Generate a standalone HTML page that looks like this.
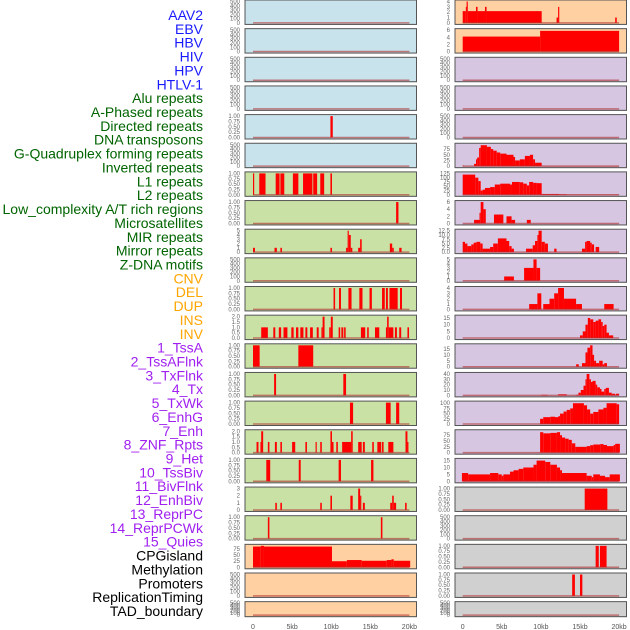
<!DOCTYPE html>
<html><head><meta charset="utf-8"><style>
html,body{margin:0;padding:0;background:#fff;width:630px;height:630px;overflow:hidden}
svg{display:block}
</style></head><body>
<svg id="chart" width="630" height="630" viewBox="0 0 630 630" xmlns="http://www.w3.org/2000/svg" font-family="Liberation Sans, sans-serif"></svg>
<script>
// ---------- data ----------
const trackLabels = ["AAV2","EBV","HBV","HIV","HPV","HTLV-1","Alu repeats","A-Phased repeats","Directed repeats","DNA transposons","G-Quadruplex forming repeats","Inverted repeats","L1 repeats","L2 repeats","Low_complexity A/T rich regions","Microsatellites","MIR repeats","Mirror repeats","Z-DNA motifs","CNV","DEL","DUP","INS","INV","1_TssA","2_TssAFlnk","3_TxFlnk","4_Tx","5_TxWk","6_EnhG","7_Enh","8_ZNF_Rpts","9_Het","10_TssBiv","11_BivFlnk","12_EnhBiv","13_ReprPC","14_ReprPCWk","15_Quies","CPGisland","Methylation","Promoters","ReplicationTiming","TAD_boundary"];
const labelColors = ["#1a1aff","#1a1aff","#1a1aff","#1a1aff","#1a1aff","#1a1aff","#006400","#006400","#006400","#006400","#006400","#006400","#006400","#006400","#006400","#006400","#006400","#006400","#006400","#ffa500","#ffa500","#ffa500","#ffa500","#ffa500","#a020f0","#a020f0","#a020f0","#a020f0","#a020f0","#a020f0","#a020f0","#a020f0","#a020f0","#a020f0","#a020f0","#a020f0","#a020f0","#a020f0","#a020f0","#000","#000","#000","#000","#000"];
const xTicks = [0,5,10,15,20];
const xTickLabels = ["0","5kb","10kb","15kb","20kb"];

const ticksEmpty = [0,100,200,300,400,500];
const ticksUnit = [0,0.25,0.5,0.75,1];
const ticks5 = [0,1,2,3,4,5];
const ticks2 = [0,0.5,1,1.5,2];
const ticks3 = [0,1,2,3];
const ticks75 = [0,25,50,75];
const ticks4 = [0,1,2,3,4];
const ticks6 = [0,2,4,6];
const ticks125 = [0,25,50,75,100,125];
const ticks12 = [0,2.5,5,7.5,10,12.5];
const ticks15 = [0,5,10,15];
const ticks40 = [0,10,20,30,40];
const ticks100 = [0,25,50,75,100];

// segments [startKb, endKb, value]
const L04 = [[9.9,10.2,1]];
const L06 = [[0,0.15,1],[0.8,1.6,1],[2.9,3.4,1],[3.5,4.0,1],[5.1,5.8,1],[6.4,7.6,1],[7.7,8.2,1],[8.6,9.1,1],[9.9,10.1,1]];
const L07 = [[18.3,18.6,1]];
const L08 = [[0,0.25,1],[2.75,3.05,1],[3.5,3.7,1],[9.9,10.1,1],[11.9,12.1,1],[12.1,12.25,5],[12.25,12.5,4],[12.5,12.7,1],[13.45,13.7,1],[13.7,13.9,3],[17.5,17.8,2],[17.8,18.0,1],[18.7,19.0,1]];
const L10 = [[10.3,10.5,1],[11.0,11.25,1],[12.2,12.6,1],[13.6,14.0,1],[14.9,15.2,1],[16.5,16.85,1],[17.0,17.25,1],[17.45,18.5,1],[18.8,19.05,1]];
const L11 = [[1.05,1.9,1],[2.6,2.85,1],[3.3,3.6,1],[3.9,4.4,1],[4.9,5.2,1],[5.5,5.8,1],[6.05,6.45,1],[6.7,6.95,1],[7.3,7.65,1],[8.15,8.4,1],[8.75,8.9,1],[8.9,9.15,2],[9.75,9.95,1],[9.95,10.2,2],[10.95,11.15,1],[11.3,11.55,1],[11.65,11.85,1],[13.8,14.35,1],[14.6,14.8,1],[15.6,16.15,1],[17.0,17.15,1],[17.15,17.35,2],[17.35,17.95,1],[18.15,18.4,1],[18.7,18.95,1],[19.75,19.95,1]];
const L12 = [[0,0.85,1],[5.8,7.7,1]];
const L13 = [[2.7,2.95,1],[11.55,11.9,1]];
const L14 = [[12.4,12.8,1],[17.0,17.6,1],[18.3,18.7,1]];
const L15 = [[0.45,0.7,1],[0.95,1.05,1],[1.05,1.3,2],[1.9,2.1,1],[2.8,3.05,1],[3.5,3.7,1],[5.0,5.4,1],[6.7,6.9,1],[8.0,8.15,1],[8.6,8.8,1],[9.9,10.1,2],[10.1,10.3,1],[10.65,10.85,1],[11.4,12.55,1],[12.55,12.75,2],[13.45,13.9,1],[14.05,14.3,1],[15.25,15.45,1],[15.9,16.4,1],[16.5,16.7,1],[17.3,17.95,1],[19.5,19.75,2],[19.75,19.85,1]];
const L16 = [[1.7,2.2,1],[5.85,6.1,1],[10.95,11.25,1],[15.1,15.4,1]];
const L17 = [[2.85,3.05,1],[3.5,3.7,1],[8.6,8.8,1],[9.9,10.1,2],[12.45,12.75,2],[13.45,13.7,3],[13.7,13.85,2],[14.05,14.3,1],[17.55,17.8,1],[17.8,18.0,2],[18.0,18.3,1],[19.45,19.65,1]];
const L18 = [[1.9,2.1,1],[16.35,16.55,1]];
const L19 = [[0,1.0,86],[1.0,1.4,89],[1.4,10.1,86],[10.1,12.0,25],[12.0,13.9,30],[13.9,17.1,27],[17.1,17.7,30],[17.7,18.0,33],[18.0,20.1,27]];

const R00 = [[0,0.4,2.2],[0.4,0.5,3],[0.5,0.65,4],[0.65,1.7,2.2],[1.7,1.9,3],[1.9,2.85,2.2],[2.85,3.05,3],[3.05,10.1,2.2],[12.0,12.2,1],[12.2,12.35,3],[19.5,19.7,1]];
const R01 = [[0,9.9,4.2],[9.9,20,5.8]];
const R05 = [[0,0.1,3],[1.45,1.7,10],[1.7,1.85,30],[1.85,2.1,38],[2.1,2.3,80],[2.3,3.1,92],[3.1,3.6,85],[3.6,3.9,75],[3.9,4.35,68],[4.35,4.8,60],[4.8,5.6,55],[5.6,6.5,50],[6.5,6.7,40],[6.7,7.3,25],[7.3,7.95,30],[7.95,8.6,45],[8.6,9.0,50],[9.0,9.25,30],[9.25,10.1,15],[10.1,20,1]];
const R06 = [[0,1.6,118],[1.6,2.0,100],[2.0,2.3,80],[2.3,2.55,25],[2.55,2.85,30],[2.85,3.5,40],[3.5,4.1,45],[4.1,4.8,60],[4.8,6.05,65],[6.05,6.3,60],[6.3,7.3,75],[7.3,7.75,73],[7.75,8.2,65],[8.2,8.5,55],[8.5,9.0,75],[9.0,9.45,70],[9.45,10.1,68],[10.1,12.35,5],[12.35,13.3,3],[13.3,20,1]];
const R07 = [[1.45,2.15,1],[2.15,2.3,3],[2.3,2.65,6],[2.65,2.95,4],[4.0,5.2,2.5],[5.6,6.25,2],[6.25,6.7,1],[8.2,8.7,1]];
const R08 = [[0,0.3,6],[0.3,0.6,5],[0.6,1.1,3.5],[1.1,1.4,4.5],[1.4,1.75,5.5],[1.75,2.25,6],[2.25,2.55,5],[2.55,3.5,2],[3.5,3.9,3],[3.9,4.5,5],[4.5,5.6,8],[5.6,5.95,6.5],[5.95,6.25,3.5],[6.25,6.55,2],[8.1,8.95,2],[8.95,9.25,4],[9.25,9.55,6.5],[9.55,9.7,10],[9.7,10.1,12.5],[10.1,10.5,6],[10.5,10.9,5],[11.7,12.0,2],[15.25,15.65,2],[15.65,15.85,6],[15.85,16.3,6.5],[16.3,16.5,5.5],[16.5,16.8,4.5],[17.0,17.45,3]];
const R09 = [[5.3,6.55,1],[7.85,9.05,3],[9.05,9.45,5],[9.45,9.9,3]];
const R10 = [[8.5,9.55,1],[9.55,10.05,3],[10.3,11.1,1],[11.1,11.7,2],[11.7,12.2,3],[12.2,12.95,4],[12.95,14.5,2],[14.5,15.25,1],[18.1,19.3,1]];
const R11 = [[15.0,15.35,2],[15.35,15.7,5],[15.7,16.0,10],[16.0,16.3,15],[16.3,16.7,14],[16.7,17.0,12],[17.0,17.35,13],[17.35,17.7,14],[17.7,17.9,12],[17.9,18.1,9],[18.1,18.4,10],[18.4,18.7,4],[18.7,19.25,2]];
const R12 = [[14.5,14.85,2],[15.25,15.7,3],[15.7,15.95,12],[15.95,16.3,16],[16.3,16.6,18],[16.6,16.8,10],[16.8,17.05,5],[17.05,17.45,3],[17.45,17.9,5],[17.9,18.1,2],[18.1,18.45,3]];
const R13 = [[10.0,10.85,1],[12.2,13.3,2],[14.45,14.8,1],[14.8,15.1,5],[15.1,15.45,10],[15.45,15.7,18],[15.7,15.85,30],[15.85,16.2,40],[16.2,16.4,30],[16.4,16.6,25],[16.6,17.0,27],[17.0,17.2,20],[17.2,17.55,15],[17.55,17.75,12],[17.75,18.1,7],[18.1,18.3,12],[18.3,18.7,14],[18.7,19.05,5],[19.05,19.5,3],[19.5,19.6,1],[19.6,20,3]];
const R14 = [[9.9,10.3,25],[10.3,11.2,33],[11.2,11.8,35],[11.8,12.25,33],[12.25,12.45,38],[12.45,12.9,50],[12.9,13.3,60],[13.3,13.75,68],[13.75,14.1,75],[14.1,15.5,100],[15.5,15.9,90],[15.9,16.3,70],[16.3,16.7,50],[16.7,17.35,58],[17.35,18.0,70],[18.0,18.4,78],[18.4,19.7,100],[19.7,20,95]];
const R15 = [[9.9,10.3,88],[10.3,11.2,83],[11.2,12.05,85],[12.05,12.45,88],[12.45,12.7,75],[12.7,13.1,65],[13.1,13.55,60],[13.55,13.95,55],[13.95,14.4,40],[14.4,15.85,25],[15.85,16.3,28],[16.3,16.7,32],[16.7,17.6,35],[17.6,18.0,37],[18.0,18.45,33],[18.45,19.3,28],[19.3,19.5,33],[19.5,20.1,38]];
const R16 = [[-0.1,0.7,6],[0.7,3.5,5],[3.5,4.55,6],[4.55,5.0,5],[5.0,5.2,4],[5.2,6.05,5],[6.05,6.5,7],[6.5,7.15,8],[7.15,7.75,9],[7.75,9.05,10],[9.05,9.45,12],[9.45,10.55,15],[10.55,11.2,14],[11.2,12.05,12],[12.05,12.45,10],[12.45,12.7,8],[12.7,15.85,6],[15.85,16.5,4],[16.5,16.7,3],[16.7,17.55,5],[17.55,18.2,4],[18.2,18.8,3],[18.8,20.1,5]];
const R17 = [[15.6,18.5,1]];
const R19 = [[17.0,17.4,1],[17.55,18.4,1]];
const R20 = [[14.0,14.35,1],[15.0,15.3,1]];

// panel config: [column, row, bg, ticks, tickLabels, max, segments]
const BLUE="#c8e3ec", GREEN="#c9e1a5", ORANGE="#fed0a2", PURPLE="#d6c6e1", GRAY="#d0d0d0";
const f2 = t=>t.map(v=>v.toFixed(2)), f1=t=>t.map(v=>v.toFixed(1)), f0=t=>t.map(v=>String(v));
const panels = [
 [0,0,BLUE,ticksEmpty,f0(ticksEmpty),500,[]],
 [0,1,BLUE,ticksEmpty,f0(ticksEmpty),500,[]],
 [0,2,BLUE,ticksEmpty,f0(ticksEmpty),500,[]],
 [0,3,BLUE,ticksEmpty,f0(ticksEmpty),500,[]],
 [0,4,BLUE,ticksUnit,f2(ticksUnit),1,L04],
 [0,5,BLUE,ticksEmpty,f0(ticksEmpty),500,[]],
 [0,6,GREEN,ticksUnit,f2(ticksUnit),1,L06],
 [0,7,GREEN,ticksUnit,f2(ticksUnit),1,L07],
 [0,8,GREEN,ticks5,f0(ticks5),5,L08],
 [0,9,GREEN,ticksEmpty,f0(ticksEmpty),500,[]],
 [0,10,GREEN,ticksUnit,f2(ticksUnit),1,L10],
 [0,11,GREEN,ticks2,f1(ticks2),2,L11],
 [0,12,GREEN,ticksUnit,f2(ticksUnit),1,L12],
 [0,13,GREEN,ticksUnit,f2(ticksUnit),1,L13],
 [0,14,GREEN,ticksUnit,f2(ticksUnit),1,L14],
 [0,15,GREEN,ticks2,f1(ticks2),2,L15],
 [0,16,GREEN,ticksUnit,f2(ticksUnit),1,L16],
 [0,17,GREEN,ticks3,f0(ticks3),3,L17],
 [0,18,GREEN,ticksUnit,f2(ticksUnit),1,L18],
 [0,19,ORANGE,ticks75,f0(ticks75),89,L19],
 [0,20,ORANGE,ticksEmpty,f0(ticksEmpty),500,[]],
 [0,21,ORANGE,ticksEmpty,f0(ticksEmpty),500,[]],
 [1,0,ORANGE,ticks4,f0(ticks4),4,R00],
 [1,1,ORANGE,ticks6,f0(ticks6),6,R01],
 [1,2,PURPLE,ticksEmpty,f0(ticksEmpty),500,[]],
 [1,3,PURPLE,ticksEmpty,f0(ticksEmpty),500,[]],
 [1,4,PURPLE,ticksEmpty,f0(ticksEmpty),500,[]],
 [1,5,PURPLE,ticks75,f0(ticks75),94,R05],
 [1,6,PURPLE,ticks125,f0(ticks125),125,R06],
 [1,7,PURPLE,ticks6,f0(ticks6),6,R07],
 [1,8,PURPLE,ticks12,f1(ticks12),12.5,R08],
 [1,9,PURPLE,ticks5,f0(ticks5),5,R09],
 [1,10,PURPLE,ticks4,f0(ticks4),4,R10],
 [1,11,PURPLE,ticks15,f0(ticks15),16,R11],
 [1,12,PURPLE,ticks15,f0(ticks15),18,R12],
 [1,13,PURPLE,ticks40,f0(ticks40),40,R13],
 [1,14,PURPLE,ticks100,f0(ticks100),103,R14],
 [1,15,PURPLE,ticks75,f0(ticks75),92,R15],
 [1,16,PURPLE,ticks15,f0(ticks15),15.5,R16],
 [1,17,GRAY,ticksUnit,f2(ticksUnit),1,R17],
 [1,18,GRAY,ticksEmpty,f0(ticksEmpty),500,[]],
 [1,19,GRAY,ticksUnit,f2(ticksUnit),1,R19],
 [1,20,GRAY,ticksUnit,f2(ticksUnit),1,R20],
 [1,21,GRAY,ticksEmpty,f0(ticksEmpty),500,[]]
];

// ---------- drawing ----------
const NS="http://www.w3.org/2000/svg";
const svg=document.getElementById('chart');
function mk(tag,attrs,parent){const e=document.createElementNS(NS,tag);for(const k in attrs)e.setAttribute(k,attrs[k]);(parent||svg).appendChild(e);return e;}
const colLeft=[245,455], colRight=[416.5,626.5], zeroX=[253,462.7], pxPerKb=[7.82,7.82];
const rowTop=i=>i*28.65, rowH=i=>i===21?15:24.4;
function xScale(c,kb){return zeroX[c]+kb*pxPerKb[c];}

trackLabels.forEach((t,i)=>{
  const el=mk('text',{x:203,y:15+i*13.86+5,'text-anchor':'end','font-size':14,fill:labelColors[i]});
  el.textContent=t;
  
  
});

panels.forEach(p=>{
  const [c,r,bg,ticks,tl,max,segs]=p;
  const top=rowTop(r), h=rowH(r), x0=colLeft[c], w=colRight[c]-colLeft[c];
  const g=mk('g',{});
  
  
  mk('rect',{x:x0+0.5,y:top+0.5,width:w,height:h,fill:'#bbb'},g);
  const bgr=mk('rect',{x:x0,y:top,width:w,height:h,fill:bg,stroke:'#555','stroke-width':1},g);
  
  
  const y0=top+h-1.5, y1=top+1.5;
  const yScale=v=>y0-(v/max)*(y0-y1);
  segs.forEach(s=>{
    const xa=xScale(c,Math.max(s[0],-0.1)), xb=xScale(c,s[1]);
    const b=mk('rect',{x:xa,y:yScale(s[2]),width:Math.max(xb-xa,1),height:y0-yScale(s[2]),fill:'#ff0000'},g);
    
    
  });
  const bl=mk('line',{x1:xScale(c,0),x2:xScale(c,20),y1:y0,y2:y0,stroke:'#b03030','stroke-width':1.5,'stroke-opacity':0.6},g);
  
  
  ticks.forEach((v,k)=>{
    const t=mk('text',{x:x0-5,y:yScale(v)+2,'text-anchor':'end','font-size':6,fill:'#666'},g);
    t.textContent=tl[k];
    
    
  });
});

[0,1].forEach(c=>{
  xTicks.forEach((v,k)=>{
    const t=mk('text',{x:xScale(c,v),y:629,'text-anchor':'middle','font-size':7,fill:'#555'});
    t.textContent=xTickLabels[k];
    
    
  });
});
</script>
</body></html>
